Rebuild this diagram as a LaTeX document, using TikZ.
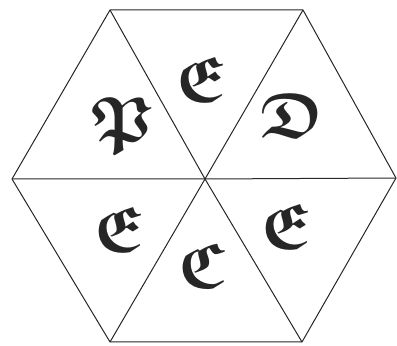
\documentclass[tikz,border=0pt]{standalone}
\usepackage{unicode-math}
\setmathfont{Latin Modern Math}
\begin{document}
\begin{tikzpicture}[x=1pt,y=1pt,
  edge/.style={draw=black!85,line width=1pt,line join=round},
  letter/.style={font=\fontsize{64}{64}\selectfont, text=black!85, inner sep=0pt}]
\useasboundingbox (0,0) rectangle (397,346);
\coordinate (O) at (205,167);
\coordinate (A) at (110,336);
\coordinate (B) at (303,336);
\coordinate (R) at (396,168);
\coordinate (C) at (302,4);
\coordinate (D) at (110,4);
\coordinate (L) at (12,167);
\draw[edge] (A) -- (B) -- (R) -- (C) -- (D) -- (L) -- cycle;
\draw[edge] (A) -- (O) -- (C);
\draw[edge] (B) -- (O) -- (D);
\draw[edge] (L) -- (O) -- (R);
\node[letter] (p) at (123,219) {$\symbffrak{P}$};
\node[letter] (e1) at (202,266) {$\symbffrak{E}$};
\node[letter] (d) at (292,229) {$\symbffrak{D}$};
\node[letter] (e2) at (120,116) {$\symbffrak{E}$};
\node[letter] (c) at (203,79) {$\symbffrak{C}$};
\node[letter] (e3) at (287,119) {$\symbffrak{E}$};
\end{tikzpicture}
\end{document}
